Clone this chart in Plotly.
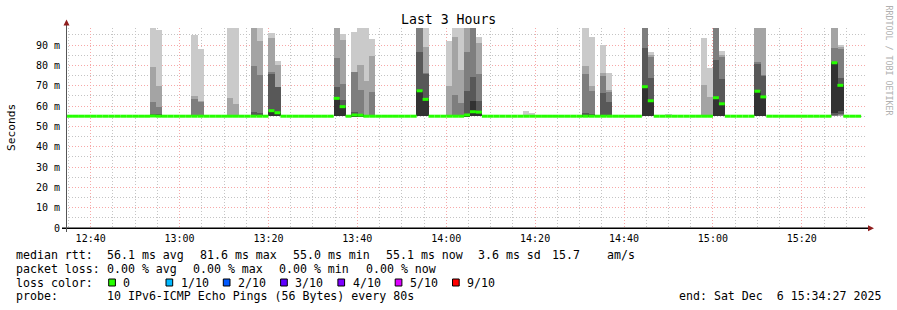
import plotly.graph_objects as go
import pandas as pd

# ---------------- data ----------------
TITLE = "Last 3 Hours"
WINDOW_START = "2025-12-06 12:34:27"
WINDOW_END = "2025-12-06 15:34:27"
FIRST_STEP = "2025-12-06 12:34:41"
STEP_SECONDS = 80
N_STEPS = 134
BASELINE_MS = 55.0

# steps (index of 80 s interval) that show smoke, with their 10 sorted ping RTTs (ms)
SMOKE_STEPS = [14, 15, 20, 21, 22, 23, 27, 28, 31, 32, 34, 35,
               45, 46, 48, 49, 50, 51, 59, 60, 64, 65, 66, 67, 68, 69,
               77, 78, 87, 88, 90, 91, 97, 98, 101, 102, 106, 107, 108, 109, 110,
               116, 117, 129, 130]
SMOKE_PINGS = [
    [55, 55, 55, 55, 55, 55.3, 56.0, 62.0, 79.0, 100],
    [55, 55, 55, 55, 55, 55.2, 56.0, 59.5, 69.8, 97.2],
    [55, 55, 55, 55, 55, 55, 55, 55, 55, 55.8],
    [55, 55, 55, 55, 55, 55, 55, 63.6, 65.1, 95.1],
    [55, 55, 55, 55, 55, 55, 55, 62.0, 62.6, 88.2],
    [55, 55, 55, 55, 55, 55, 55, 55, 55, 55.7],
    [55, 55, 55, 55, 55, 55, 55, 55, 64.1, 100],
    [55, 55, 55, 55, 55, 55, 55, 55, 61.1, 100],
    [55, 55, 55, 55, 55, 55, 57.2, 79.8, 100, 100],
    [55, 55, 55, 55, 55, 55, 56.7, 75.4, 92.2, 100],
    [55, 55, 55, 55, 55, 57.7, 75.9, 76.9, 93.6, 96.1],
    [55, 55, 55, 55, 55, 56.7, 69.4, 69.5, 80.3, 82.3],
    [55, 55, 55, 55, 55, 63.6, 69.5, 83.8, 100, 100],
    [55, 55, 55, 55, 55, 59.7, 63.1, 71.0, 92.6, 95.6],
    [55, 55, 55, 55, 55, 55.6, 57.2, 76.8, 76.9, 96.6],
    [55, 55, 55, 55, 55, 55.5, 56.2, 68.0, 80.3, 100],
    [55, 55, 55, 55, 55, 55, 55, 55, 72.4, 100],
    [55, 55, 55, 55, 55, 55, 55, 67.0, 84.7, 93.1],
    [55, 55, 55, 55, 55, 67.5, 86.7, 100, 100, 100],
    [55, 55, 55, 55, 55, 63.3, 76.0, 76.4, 89.2, 100],
    [55, 55, 55, 55, 55, 55, 55, 55, 70.0, 92.1],
    [55, 55, 55, 55, 55, 55, 55, 65.5, 94.0, 100],
    [55, 55, 55, 55, 55, 55, 55, 61.6, 77.9, 100],
    [55, 55, 55, 55, 55, 55.6, 67.5, 86.7, 100, 100],
    [55, 55, 55, 55, 55, 62.6, 74.4, 100, 100, 100],
    [55, 55, 55, 55, 55, 57.0, 62.6, 75.9, 91.1, 94.0],
    [55, 55, 55, 55, 55, 55, 55, 55, 55, 57.7],
    [55, 55, 55, 55, 55, 55, 55, 55, 55, 56.7],
    [55, 55, 55, 55, 55, 55.3, 56.7, 75.9, 79.8, 100],
    [55, 55, 55, 55, 55, 55, 56.0, 67.5, 70.0, 94.1],
    [55, 55, 55, 55, 55, 55, 66.5, 74.9, 76.4, 90.2],
    [55, 55, 55, 55, 55, 55, 62.1, 67.0, 68.0, 76.4],
    [55, 55, 55, 55, 55, 69.5, 88.7, 100, 100, 100],
    [55, 55, 55, 55, 55, 62.6, 73.9, 84.0, 85.2, 86.7],
    [55, 55, 55, 55, 55, 55, 55, 55, 55, 56.2],
    [55, 55, 55, 55, 55, 55, 55, 55, 55, 55.7],
    [55, 55, 55, 55, 55, 55, 55, 55, 55, 55.7],
    [55, 55, 55, 55, 55, 55, 55, 55, 70.5, 93.6],
    [55, 55, 55, 55, 55, 55, 55, 55, 64.6, 78.8],
    [55, 55, 55, 55, 55, 64.1, 82.8, 100, 100, 100],
    [55, 55, 55, 55, 55, 61.1, 73.4, 84.0, 85.2, 87.2],
    [55, 55, 55, 55, 55, 67.3, 80.5, 81.8, 100, 100],
    [55, 55, 55, 55, 55, 64.5, 75.0, 75.4, 100, 100],
    [55, 55, 55.3, 55.8, 56.7, 81.3, 81.8, 88.7, 100, 100],
    [55, 55.2, 55.5, 56.0, 57.5, 70.2, 74.0, 88.0, 89.2, 90.2],
]
SMOKE_MEDIANS = [55.1, 55.0, 55.0, 55.0, 55.0, 55.0, 55.0, 55.0, 55.0, 55.0, 57.7, 56.7,
                 63.8, 59.7, 55.6, 55.5, 55.0, 55.0, 67.5, 63.3,
                 55.0, 55.0, 55.0, 55.6, 57.2, 57.0,
                 55.0, 55.0, 55.0, 55.0, 55.0, 55.0, 69.5, 62.6, 55.0, 55.0, 55.0, 55.0, 55.0, 64.1, 61.1,
                 67.3, 64.5, 81.3, 70.2]

Y_TICKS = [0, 10, 20, 30, 40, 50, 60, 70, 80, 90]
Y_TICK_TEXT = ["0", "10 m", "20 m", "30 m", "40 m", "50 m", "60 m", "70 m", "80 m", "90 m"]
Y_LABEL = "Seconds"

MEDIAN_HEAD = "median rtt:"
MEDIAN_STATS = ["56.1 ms avg", "81.6 ms max", "55.0 ms min", "55.1 ms now", "3.6 ms sd", "15.7", "am/s"]
LOSS_HEAD = "packet loss:"
LOSS_STATS = ["0.00 % avg", "0.00 % max", "0.00 % min", "0.00 % now"]
LOSSCOL_HEAD = "loss color:"
LOSS_LABELS = ["0", "1/10", "2/10", "3/10", "4/10", "5/10", "9/10"]
LOSS_COLORS = ["#26ff00", "#00b8ff", "#0059ff", "#5e00ff", "#7e00ff", "#dd00ff", "#ff0000"]
PROBE_HEAD = "probe:"
PROBE_TEXT = "10 IPv6-ICMP Echo Pings (56 Bytes) every 80s"
END_TEXT = "end: Sat Dec  6 15:34:27 2025"
WATERMARK = "RRDTOOL / TOBI OETIKER"

# ---------------- styling / geometry ----------------
W, H = 897, 310
PL, PR, PT, PB = 66, 866, 28, 228   # plot area in pixels
SMOKE_COLORS = ["#cacaca", "#a4a4a4", "#7e7e7e", "#585858", "#323232"]
MONO = "DejaVu Sans Mono"


def px(x):
    return (x - PL) / (PR - PL)


def py(y):
    return (PB - y) / (PB - PT)


def nb(s):
    return s.replace(" ", "\u00a0")


t0 = pd.Timestamp(FIRST_STEP)
step = pd.Timedelta(seconds=STEP_SECONDS)

fig = go.Figure()

# smoke bands: band b spans ping[b] .. ping[9-b]
for b in range(5):
    xs, bases, heights = [], [], []
    for k, pings in zip(SMOKE_STEPS, SMOKE_PINGS):
        lo, hi = pings[b], pings[9 - b]
        if hi > lo:
            xs.append(t0 + step * k + step / 2)
            bases.append(lo)
            heights.append(hi - lo)
    fig.add_trace(go.Bar(x=xs, y=heights, base=bases, width=STEP_SECONDS * 1000 * 1.06,
                         marker=dict(color=SMOKE_COLORS[b], opacity=1, line=dict(width=0)),
                         opacity=1, showlegend=False, hoverinfo="skip"))

# median line, one horizontal segment per step
med = {k: m for k, m in zip(SMOKE_STEPS, SMOKE_MEDIANS)}
mx, my = [], []
for k in range(N_STEPS):
    m = med.get(k, BASELINE_MS)
    mx += [t0 + step * k, t0 + step * (k + 1), None]
    my += [m, m, None]
fig.add_trace(go.Scatter(x=mx, y=my, mode="lines", line=dict(color=LOSS_COLORS[0], width=3),
                         showlegend=False, hoverinfo="skip"))

grid_red = "#f7a8a8"
grid_grey = "#c4c4c4"

fig.update_layout(
    width=W, height=H,
    margin=dict(l=PL, r=W - PR, t=PT, b=H - PB, pad=0),
    paper_bgcolor="white", plot_bgcolor="white",
    barmode="overlay", bargap=0,
    showlegend=False,
    font=dict(family=MONO, color="black"),
    xaxis=dict(
        type="date", range=[WINDOW_START, WINDOW_END],
        tick0="2025-12-06 12:40:00", dtick=20 * 60 * 1000, tickformat="%H:%M",
        showgrid=True, gridcolor=grid_red, gridwidth=1, griddash="1px,2px",
        minor=dict(tick0="2025-12-06 12:40:00", dtick=5 * 60 * 1000, showgrid=True,
                   gridcolor=grid_grey, gridwidth=1, griddash="1px,2px"),
        zeroline=False, showline=False, ticks="",
        tickfont=dict(family=MONO, size=10, color="black"),
        ticklabelstandoff=3,
        fixedrange=True,
    ),
    yaxis=dict(
        range=[0, 98.4],
        tickmode="array", tickvals=Y_TICKS, ticktext=Y_TICK_TEXT,
        showgrid=True, gridcolor=grid_red, gridwidth=1, griddash="1px,2px",
        minor=dict(dtick=5, tick0=0, showgrid=True, gridcolor=grid_grey, gridwidth=1, griddash="1px,2px"),
        zeroline=False, showline=False, ticks="",
        tickfont=dict(family=MONO, size=10, color="black"),
        ticklabelstandoff=5,
        fixedrange=True,
    ),
)

shapes = []
# axes lines
shapes.append(dict(type="line", xref="paper", yref="paper", x0=px(62), x1=px(869), y0=py(228.3), y1=py(228.3),
                   line=dict(color="black", width=1.5), layer="above"))
shapes.append(dict(type="line", xref="paper", yref="paper", x0=px(66.5), x1=px(66.5), y0=py(232), y1=py(24),
                   line=dict(color="#555555", width=1), layer="above"))
# arrows
shapes.append(dict(type="path", xref="paper", yref="paper",
                   path=f"M {px(868)} {py(225.3)} L {px(874)} {py(228.3)} L {px(868)} {py(231.3)} Z",
                   fillcolor="#8f1d1d", line=dict(width=0), layer="above"))
shapes.append(dict(type="path", xref="paper", yref="paper",
                   path=f"M {px(63.5)} {py(25.5)} L {px(66.5)} {py(19.5)} L {px(69.5)} {py(25.5)} Z",
                   fillcolor="#8f1d1d", line=dict(width=0), layer="above"))

ann = []
LEG = 11.6
ann.append(dict(text=TITLE, x=px(448), y=py(19.5), xref="paper", yref="paper", showarrow=False,
                xanchor="center", yanchor="middle", font=dict(family=MONO, size=13.2, color="black")))
ann.append(dict(text=Y_LABEL, x=px(11), y=py(127), xref="paper", yref="paper", showarrow=False,
                textangle=-90, xanchor="center", yanchor="middle", font=dict(family=MONO, size=11.2, color="black")))
ann.append(dict(text=nb(WATERMARK), x=px(888.5), y=py(60), xref="paper", yref="paper", showarrow=False,
                textangle=90, xanchor="center", yanchor="middle", font=dict(family=MONO, size=8.3, color="#b0b0b0")))


def text_at(s, x, y, anchor="left", color="black"):
    ann.append(dict(text=nb(s), x=px(x), y=py(y), xref="paper", yref="paper", showarrow=False,
                    xanchor=anchor, yanchor="middle", borderpad=0, borderwidth=0,
                    font=dict(family=MONO, size=LEG, color=color)))


ROWS = [254.8, 268.6, 282.5, 296.4]
text_at(MEDIAN_HEAD, 16, ROWS[0])
for s, x in zip(MEDIAN_STATS, [107.3, 200, 293.3, 386, 478.3, 551.7, 606.7]):
    text_at(s, x, ROWS[0])
text_at(LOSS_HEAD, 16, ROWS[1])
for s, x in zip(LOSS_STATS, [107.3, 193.3, 279.3, 365.7]):
    text_at(s, x, ROWS[1])
text_at(LOSSCOL_HEAD, 16, ROWS[2])
for i, (lab, col) in enumerate(zip(LOSS_LABELS, LOSS_COLORS)):
    bx = 108.7 + 57.3 * i
    shapes.append(dict(type="rect", xref="paper", yref="paper", x0=px(bx), x1=px(bx + 6.7),
                       y0=py(286), y1=py(279), fillcolor=col, line=dict(color="black", width=1), layer="above"))
    text_at(lab, bx + 14.6, ROWS[2])
text_at(PROBE_HEAD, 16, ROWS[3])
text_at(PROBE_TEXT, 107.3, ROWS[3])
text_at(END_TEXT, 881, ROWS[3], anchor="right")

fig.update_layout(shapes=shapes, annotations=ann)
fig.write_html("out.html")
